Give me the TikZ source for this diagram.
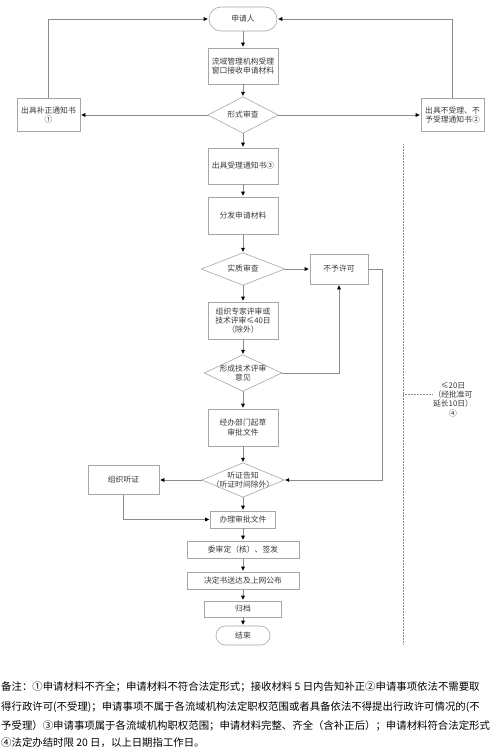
\documentclass[tikz,border=0pt]{standalone}
\usepackage{fontspec}
\usepackage{tikz}
\usetikzlibrary{arrows.meta, shapes.misc}
\newfontfamily\cjk{Noto Sans CJK SC}
\definecolor{shapegray}{HTML}{A6A6A6}
\definecolor{linegray}{HTML}{8C8C8C}
\definecolor{textgray}{HTML}{3A3A3A}
\newcommand{\boxfont}{\cjk\fontsize{7.8}{9.2}\selectfont}
\newcommand{\notefont}{\cjk\fontsize{10.4}{12}\selectfont}
\tikzset{
  box/.style={draw=shapegray, line width=0.6pt, text=textgray, font=\boxfont,
    align=center, inner sep=1pt, minimum width=70pt, minimum height=36pt},
  term/.style={box, rounded rectangle, minimum height=24pt},
  decide/.style={text=textgray, font=\boxfont, align=center, inner sep=0pt},
  flow/.style={draw=linegray, line width=0.6pt, shorten >=1pt,
    -{Triangle[length=4pt,width=3.6pt,color=black]}},
  limitline/.style={draw=linegray, line width=0.5pt, densely dotted},
}

\begin{document}
\begin{tikzpicture}[x=1pt,y=-1pt]
  \fill[white] (0,0) rectangle (500,752);
  \useasboundingbox (0,0) rectangle (500,752);
  % main column
  \node[term] (applicant) at (243,19) {申请人};
  \node[box] (window) at (243,66) {流域管理机构受理\\窗口接收申请材料};
  \node[decide, minimum width=70pt, minimum height=36pt] (formal) at (243,115) {形式审查};
  \node[box, minimum width=63pt, minimum height=33pt] (fix) at (48.5,115) {出具补正通知书\\①};
  \node[box, minimum width=63pt, minimum height=33pt] (refuse) at (452.5,115) {出具不受理、不\\予受理通知书②};
  \node[box] (accept) at (243,166) {出具受理通知书③};
  \node[box, minimum height=37pt] (distribute) at (243,215.5) {分发申请材料};
  \node[decide, minimum width=83pt, minimum height=32pt] (substance) at (243,269) {实质审查};
  \node[box, minimum width=58pt, minimum height=30pt] (deny) at (339,269) {不予许可};
  \node[box, minimum height=37pt] (expert) at (243,320.5) {组织专家评审或\\技术评审≤40日\\（除外）};
  \node[decide, minimum width=77pt, minimum height=36pt] (opinion) at (243,373) {形成技术评审\\意见};
  \node[box, minimum height=37pt] (draft) at (243,427.5) {经办部门起草\\审批文件};
  \node[decide, minimum width=82pt, minimum height=34pt] (hearing) at (243,480) {听证告知\\（听证时间除外）};
  \node[box, minimum width=71pt, minimum height=29pt] (organize) at (123.5,480) {组织听证};
  \node[box, minimum width=65pt, minimum height=17pt] (handle) at (243,519.5) {办理审批文件};
  \node[box, minimum width=112pt, minimum height=17pt] (sign) at (243,549.5) {委审定（核）、签发};
  \node[box, minimum width=112pt, minimum height=17pt] (deliver) at (243,580.5) {决定书送达及上网公布};
  \node[box, minimum width=77pt, minimum height=16pt] (archive) at (243,609) {归档};
  \node[term, minimum width=56pt, minimum height=19pt] (finish) at (243,635.5) {结束};
  % diamonds
  \foreach \d in {formal,substance,opinion,hearing}
    \draw[shapegray, line width=0.6pt] (\d.north) -- (\d.east) -- (\d.south) -- (\d.west) -- cycle;
  % top part
  \draw[flow] (applicant.south) -- (window.north);
  \draw[flow] (window.south) -- (formal.north);
  \draw[flow] (formal.west) -- (fix.east);
  \draw[flow] (formal.east) -- (refuse.west);
  \draw[flow] (fix.north) |- (applicant.west);
  \draw[flow] (refuse.north) |- (applicant.east);
  \draw[flow] (formal.south) -- (accept.north);
  \draw[flow] (accept.south) -- (distribute.north);
  \draw[flow] (distribute.south) -- (substance.north);
  % review and refusal
  \draw[flow] (substance.east) -- (deny.west);
  \draw[flow] (substance.south) -- (expert.north);
  \draw[flow] (expert.south) -- (opinion.north);
  \draw[flow] (opinion.east) -| (deny.south);
  \draw[flow] (opinion.south) -- (draft.north);
  \draw[flow] (draft.south) -- (hearing.north);
  \draw[flow] (deny.east) -- ++(14,0) |- (hearing.east);
  % hearing
  \draw[flow] (hearing.west) -- (organize.east);
  \draw[flow] (organize.south) |- (handle.west);
  \draw[flow] (hearing.south) -- (handle.north);
  \draw[flow] (handle.south) -- (sign.north);
  \draw[flow] (sign.south) -- (deliver.north);
  \draw[flow] (deliver.south) -- (archive.north);
  \draw[flow] (archive.south) -- (finish.north);
  % time limit
  \node[decide] (limit) at (453,399.5) {≤20日\\（经批准可\\延长10日）\\④};
  \coordinate (limtop) at (403,144);
  \coordinate (limbot) at (403,644);
  \coordinate (limjoin) at (403,394);
  \draw[limitline] (limtop) -- (limbot);
  \draw[limitline] (limjoin) -- (limit.west |- limjoin);
  % notes
  \node[anchor=west, font=\notefont, inner sep=0pt] (note1) at (1,687)
    {备注：①申请材料不齐全；申请材料不符合法定形式；接收材料 5 日内告知补正②申请事项依法不需要取};
  \node[anchor=west, font=\notefont, inner sep=0pt] (note2) at (1,707)
    {得行政许可(不受理)；申请事项不属于各流域机构法定职权范围或者具备依法不得提出行政许可情况的(不};
  \node[anchor=west, font=\notefont, inner sep=0pt] (note3) at (1,726)
    {予受理）③申请事项属于各流域机构职权范围；申请材料完整、齐全（含补正后）；申请材料符合法定形式};
  \node[anchor=west, font=\notefont, inner sep=0pt] (note4) at (1,743)
    {④法定办结时限 20 日，以上日期指工作日。};
\end{tikzpicture}
\end{document}
